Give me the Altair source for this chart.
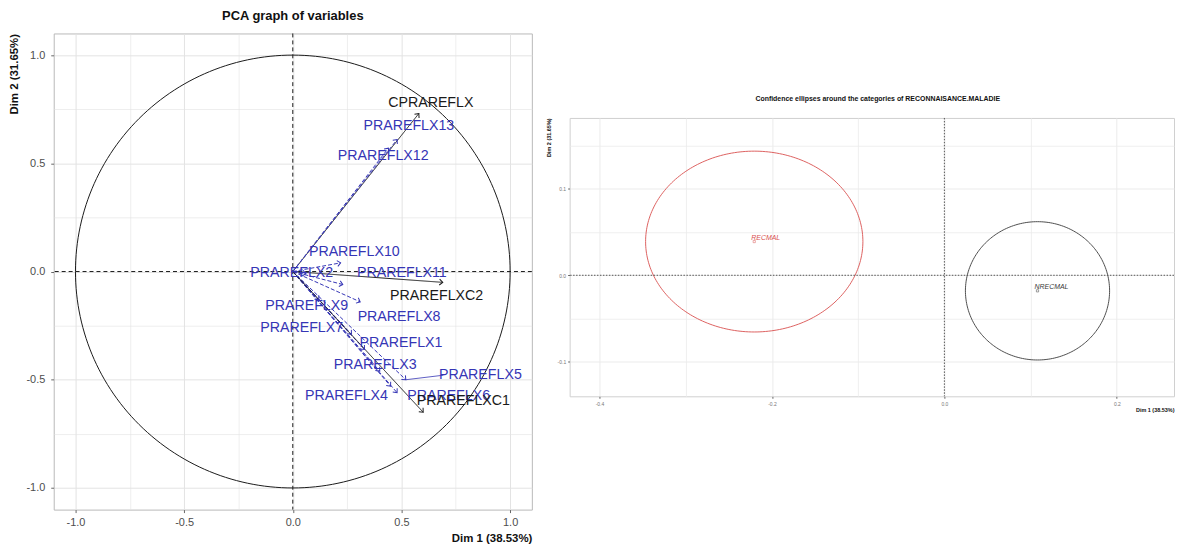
import numpy as np
import pandas as pd
import altair as alt

# ---------------- left panel : PCA graph of variables ----------------
var_names = ["CPRAREFLX", "PRAREFLX13", "PRAREFLX12", "PRAREFLX10", "PRAREFLX2",
             "PRAREFLX11", "PRAREFLXC2", "PRAREFLX9", "PRAREFLX8", "PRAREFLX7",
             "PRAREFLX1", "PRAREFLX3", "PRAREFLX5", "PRAREFLX4", "PRAREFLX6",
             "PRAREFLXC1"]
var_group = ["active", "sup", "sup", "sup", "sup", "sup", "active", "sup", "sup",
             "sup", "sup", "sup", "sup", "sup", "sup", "active"]
dim1 = [0.58, 0.48, 0.44, 0.22, 0.06, 0.23, 0.69, 0.12, 0.31, 0.27, 0.33, 0.40,
        0.52, 0.45, 0.48, 0.60]
dim2 = [0.73, 0.61, 0.57, 0.04, -0.01, -0.06, -0.05, -0.13, -0.14, -0.29, -0.36,
        -0.46, -0.50, -0.53, -0.56, -0.65]
label_x = [0.635, 0.534, 0.416, 0.283, -0.005, 0.502, 0.662, 0.064, 0.489, 0.041,
           0.498, 0.379, 0.863, 0.247, 0.717, 0.785]
label_y = [0.78, 0.673, 0.535, 0.092, -0.005, -0.009, -0.115, -0.161, -0.212,
           -0.263, -0.332, -0.433, -0.479, -0.576, -0.576, -0.599]
left_ticks = [-1.0, -0.75, -0.5, -0.25, 0.0, 0.25, 0.5, 0.75, 1.0]
left_domain = [-1.1, 1.1]

# ---------------- right panel : confidence ellipses ----------------
cat_names = ["RECMAL", "NRECMAL"]
cat_x = [-0.2205, 0.108]
cat_y = [0.039, -0.018]
ell_rx = [0.126, 0.0836]
ell_ry = [0.1046, 0.080]
cat_colors = ["#D9504F", "#3a3a3a"]
right_xticks = [-0.4, -0.3, -0.2, -0.1, 0.0, 0.1, 0.2]
right_yticks = [-0.1, -0.05, 0.0, 0.05, 0.1, 0.15]
right_xdomain = [-0.4346, 0.2663]
right_ydomain = [-0.14, 0.182]

FONT = "Liberation Sans"
BLUE = "#3535B5"

vars_df = pd.DataFrame({"name": var_names, "group": var_group, "x": dim1, "y": dim2,
                        "lx": label_x, "ly": label_y})
vars_df["x0"] = 0.0
vars_df["y0"] = 0.0

theta = np.linspace(0, 2 * np.pi, 241)
circle_df = pd.DataFrame({"i": np.arange(len(theta)), "x": np.cos(theta), "y": np.sin(theta)})
zero_df = pd.DataFrame({"z": [0.0]})

ell_rows = []
for n, cx, cy, rx, ry in zip(cat_names, cat_x, cat_y, ell_rx, ell_ry):
    for i, t in enumerate(theta):
        ell_rows.append({"cat": n, "i": i, "x": cx + rx * np.cos(t), "y": cy + ry * np.sin(t)})
ell_df = pd.DataFrame(ell_rows)
cat_df = pd.DataFrame({"cat": cat_names, "x": cat_x, "y": cat_y})


def tick_axis(title, values, major_test, fmt, *, font_size, title_size, tick_size,
              label_pad, title_pad, label_color, grid_color, grid_major, grid_minor):
    return alt.Axis(
        values=values,
        title=title,
        titleAnchor="end",
        titleFontWeight="bold",
        titleFontSize=title_size,
        titleColor="#111111",
        titleFont=FONT,
        titlePadding=title_pad,
        labelFont=FONT,
        labelFontSize=font_size,
        labelColor=label_color,
        labelPadding=label_pad,
        labelExpr=f"({major_test}) ? replace(format(datum.value, '{fmt}'), '\u2212', '-') : ''",
        tickOpacity={"condition": {"test": major_test, "value": 1}, "value": 0},
        tickColor="#666666",
        tickSize=tick_size,
        grid=True,
        gridColor=grid_color,
        gridWidth={"condition": {"test": major_test, "value": grid_major}, "value": grid_minor},
        domain=False,
    )


left_major = "abs(datum.value * 2 - round(datum.value * 2)) < 0.001"
lx_scale = alt.Scale(domain=left_domain, nice=False, zero=False)
ly_scale = alt.Scale(domain=left_domain, nice=False, zero=False)
LXA = tick_axis("Dim 1 (38.53%)", left_ticks, left_major, ".1f", font_size=11,
                title_size=11.5, tick_size=3, label_pad=4, title_pad=5,
                label_color="#4d4d4d", grid_color="#e3e3e3",
                grid_major=1, grid_minor=0.6)
LYA = tick_axis("Dim 2 (31.65%)", left_ticks, left_major, ".1f", font_size=11,
                title_size=11.5, tick_size=3, label_pad=6, title_pad=6,
                label_color="#4d4d4d", grid_color="#e3e3e3",
                grid_major=1, grid_minor=0.6)


def LX(f):
    return alt.X(f, type="quantitative", scale=lx_scale, axis=LXA)


def LY(f):
    return alt.Y(f, type="quantitative", scale=ly_scale, axis=LYA)


group_color = alt.Color("group:N", scale=alt.Scale(domain=["active", "sup"],
                                                   range=["#1a1a1a", BLUE]), legend=None)

circle = alt.Chart(circle_df).mark_line(color="#1a1a1a", strokeWidth=1).encode(
    x=LX("x"), y=LY("y"), order="i:Q")
zero_v = alt.Chart(zero_df).mark_rule(color="#1a1a1a", strokeDash=[4, 3], strokeWidth=1).encode(
    x=LX("z"))
zero_h = alt.Chart(zero_df).mark_rule(color="#1a1a1a", strokeDash=[4, 3], strokeWidth=1).encode(
    y=LY("z"))

arrows = alt.Chart(vars_df).mark_rule(strokeWidth=1).encode(
    x=LX("x0"), y=LY("y0"),
    x2=alt.X2("x"), y2=alt.Y2("y"),
    color=group_color,
    strokeDash=alt.StrokeDash("group:N", scale=alt.Scale(domain=["active", "sup"],
                                                         range=[[1, 0], [4, 2]]), legend=None),
)
heads = alt.Chart(vars_df).transform_calculate(
    ang="(atan2(datum.x, datum.y) * 180 / PI + 360) % 360"
).mark_point(shape="M -0.7 0.8 L 0 0 L 0.7 0.8", filled=False, strokeWidth=1, size=70,
             opacity=1).encode(
    x=LX("x"), y=LY("y"),
    angle=alt.Angle("ang:Q", scale=None),
    color=group_color,
)
# repel connector for PRAREFLX5
conn = alt.Chart(vars_df).transform_filter("datum.name == 'PRAREFLX5'").transform_calculate(
    lx2="datum.lx - 0.17").mark_rule(color=BLUE, strokeWidth=0.8).encode(
    x=LX("x"), y=LY("y"), x2=alt.X2("lx2"), y2=alt.Y2("ly"))

labels_sup = alt.Chart(vars_df).transform_filter("datum.group == 'sup'").mark_text(
    font=FONT, fontSize=14.3, color=BLUE).encode(x=LX("lx"), y=LY("ly"), text="name:N")
labels_act = alt.Chart(vars_df).transform_filter("datum.group == 'active'").mark_text(
    font=FONT, fontSize=14.3, color="#1a1a1a").encode(x=LX("lx"), y=LY("ly"), text="name:N")

left = alt.layer(circle, zero_v, zero_h, arrows, heads, conn, labels_sup, labels_act).properties(
    width=481, height=479,
    title=alt.TitleParams("PCA graph of variables", font=FONT, fontSize=13, fontWeight="bold",
                          color="#111111", anchor="middle", offset=10),
    view=alt.ViewBackground(stroke="#b8b8b8", strokeWidth=1),
)

# ---------------- right panel ----------------
right_xmajor = "abs(datum.value * 5 - round(datum.value * 5)) < 0.001"
right_ymajor = "abs(datum.value * 10 - round(datum.value * 10)) < 0.001"
rx_scale = alt.Scale(domain=right_xdomain, nice=False, zero=False)
ry_scale = alt.Scale(domain=right_ydomain, nice=False, zero=False)
RXA = tick_axis("Dim 1 (38.53%)", right_xticks, right_xmajor, ".1f", font_size=5,
                title_size=5.5, tick_size=2, label_pad=3, title_pad=1,
                label_color="#777777", grid_color="#ebebeb",
                grid_major=1, grid_minor=0.8)
RYA = tick_axis("Dim 2 (31.65%)", right_yticks, right_ymajor, ".1f", font_size=5,
                title_size=5.5, tick_size=2, label_pad=2, title_pad=6,
                label_color="#777777", grid_color="#ebebeb",
                grid_major=1, grid_minor=0.8)


def RX(f):
    return alt.X(f, type="quantitative", scale=rx_scale, axis=RXA)


def RY(f):
    return alt.Y(f, type="quantitative", scale=ry_scale, axis=RYA)


cat_color = alt.Color("cat:N", scale=alt.Scale(domain=cat_names, range=cat_colors), legend=None)

ellipses = alt.Chart(ell_df).mark_line(strokeWidth=0.9).encode(
    x=RX("x"), y=RY("y"), detail="cat:N", order="i:Q", color=cat_color)
r_zero_v = alt.Chart(zero_df).mark_rule(color="#555555", strokeDash=[1.5, 1.5], strokeWidth=1).encode(
    x=RX("z"))
r_zero_h = alt.Chart(zero_df).mark_rule(color="#555555", strokeDash=[1.5, 1.5], strokeWidth=1).encode(
    y=RY("z"))
cat_pts = alt.Chart(cat_df).mark_point(shape="square", size=5, filled=False, strokeWidth=0.7).encode(
    x=RX("x"), y=RY("y"), color=cat_color)
cat_txt = alt.Chart(cat_df).mark_text(font=FONT, fontSize=7, fontStyle="italic", align="left",
                                      dx=-3, dy=-4).encode(
    x=RX("x"), y=RY("y"), text="cat:N", color=cat_color)

right = alt.layer(ellipses, r_zero_v, r_zero_h, cat_pts, cat_txt).properties(
    width=608, height=280,
    title=alt.TitleParams("Confidence ellipses around the categories of RECONNAISANCE.MALADIE",
                          font=FONT, fontSize=7, fontWeight="bold", color="#111111",
                          anchor="middle", frame="group", offset=16, dx=6),
    view=alt.ViewBackground(stroke="#d0d0d0", strokeWidth=1),
)

spacer = alt.Chart(zero_df).mark_point(opacity=0).encode(
    x=alt.X("z:Q", axis=None), y=alt.Y("z:Q", axis=None)
).properties(width=10, height=61, view=alt.ViewBackground(strokeOpacity=0))

right_col = alt.vconcat(spacer, right, spacing=0)

chart = alt.hconcat(left, right_col, spacing=12).resolve_scale(color="independent").properties(
    padding=0).configure(font=FONT).configure_view(stroke=None)

chart.save("out.html", embed_options={"renderer": "svg", "actions": False})
